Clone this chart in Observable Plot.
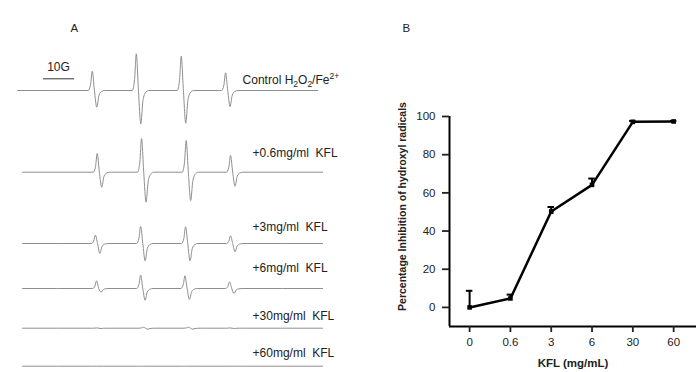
<!DOCTYPE html>
<html>
<head>
<meta charset="utf-8">
<script src="https://cdn.jsdelivr.net/npm/d3@7"></script>
<script src="https://cdn.jsdelivr.net/npm/@observablehq/plot@0.6"></script>
<style>
  html, body { margin: 0; padding: 0; background: #fff; }
  #wrap { display: flex; width: 696px; height: 372px; overflow: hidden; }
  svg { font-family: "Liberation Sans", Arial, sans-serif; }
</style>
</head>
<body>
<div id="wrap"></div>
<script>
// ---------- Panel A: ESR spectra (DMPO-OH quartet) ----------
const spectra = ["Control H2O2/Fe2+", "+0.6mg/ml  KFL", "+3mg/ml  KFL", "+6mg/ml  KFL", "+30mg/ml  KFL", "+60mg/ml  KFL"];
const baseline = [0, -81.7, -153, -198, -237.7, -275.7];          // stacking offset (a.u.)
const labelLift = [10.5, 18.7, 16, 20, 11.7, 13];                   // label height above trace (a.u.)
const sweepStart = [5.5, 7.1, 7.1, 7.1, 7.1, 7.1];                 // field (G)
const sweepEnd = [102.3, 103.9, 103.9, 103.9, 103.9, 103.9];       // field (G)
const peakField = [
  [29.6, 43.8, 58.3, 72.6],
  [31.2, 45.5, 59.9, 74.2],
  [30.6, 45.2, 59.7, 74.2],
  [31.0, 45.2, 59.5, 73.9],
  [31.0, 46.1, 60.6, 74.0],
  [31.0, 45.5, 60.0, 74.0]
];
const peakUp = [
  [19.3, 36.7, 34.3, 17.7],
  [18.7, 33.7, 31.7, 16.7],
  [8.3, 17, 16.7, 7.7],
  [7.7, 13.3, 12.7, 6.7],
  [0.3, 1, 1, 0.3],
  [0, 0, 0, 0]
];
const peakDown = [
  [16.7, 33.3, 32.7, 16],
  [15, 30, 28.3, 14],
  [10, 17.3, 17.3, 8.3],
  [3.6, 11.7, 11, 5],
  [0.3, 1, 1, 0.3],
  [0, 0, 0, 0]
];
// derivative line shape: [field offset G, share of up, share of down]
const lineShape = [[-1.3, 0, 0], [-0.55, 0.3, 0], [0, 1, 0], [0.7, 0, 0], [1.45, 0, 1], [2.15, 0, 0.3], [3.0, 0, 0.06], [4.0, 0, 0]];
const scaleBarGauss = 10;

// ---------- Panel B: inhibition ----------
const kflLabels = ["0", "0.6", "3", "6", "30", "60"];
const inhibition = [0, 4.7, 50.2, 64.2, 97.2, 97.4];
const errorUp = [8.7, 2, 2.4, 3.3, 0.5, 0.3];

// build trace vertices
const tracePoints = [];
spectra.forEach((name, s) => {
  tracePoints.push({s, x: sweepStart[s], y: baseline[s]});
  peakField[s].forEach((f, p) => {
    const u = peakUp[s][p], d = peakDown[s][p];
    for (const [dx, fu, fd] of lineShape) tracePoints.push({s, x: f + dx, y: baseline[s] + fu * u - fd * d});
  });
  tracePoints.push({s, x: sweepEnd[s], y: baseline[s]});
});
const labelRows = spectra.map((name, s) => ({name, x: s === 0 ? 78.1 : 81.3, y: baseline[s] + labelLift[s]}));

const plotA = Plot.plot({
  width: 350, height: 372, margin: 0,
  x: {domain: [0, 350 / 3.1], axis: null},
  y: {domain: [-282, 90], axis: null},
  marks: [
    Plot.line(tracePoints, {x: "x", y: "y", z: "s", stroke: "#8e8e8e", strokeWidth: 1, curve: "monotone-x"}),
    Plot.ruleY([11.7], {x1: 13.9, x2: 13.9 + scaleBarGauss, stroke: "#333", strokeWidth: 1}),
    Plot.text([scaleBarGauss + "G"], {x: 18.7, y: 23.3, fontSize: 12, fill: "#222"}),
    Plot.text(labelRows, {x: "x", y: "y", text: "name", textAnchor: "start", fontSize: 12, fill: "#222"}),
    Plot.text(["A"], {frameAnchor: "top-left", dx: 70, dy: 23, fontSize: 11.5, fill: "#222"})
  ]
});

// subscripts / superscripts in the control label
plotA.querySelectorAll("text").forEach(t => {
  if (t.textContent === spectra[0]) {
    t.textContent = "";
    const parts = [["Control H", 0], ["2", 1], ["O", 0], ["2", 1], ["/Fe", 0], ["2+", 2]];
    let shift = 0;
    for (const [str, kind] of parts) {
      const ts = document.createElementNS("http://www.w3.org/2000/svg", "tspan");
      const target = kind === 1 ? 3 : kind === 2 ? -5 : 0;
      ts.setAttribute("dy", target - shift);
      shift = target;
      if (kind) ts.setAttribute("font-size", "8.5");
      ts.textContent = str;
      t.appendChild(ts);
    }
  }
});

const rows = kflLabels.map((k, i) => ({i, k, v: inhibition[i], e: errorUp[i]}));
const xMin = -0.493, xMax = 5.56;
const plotB = Plot.plot({
  width: 346, height: 372,
  marginLeft: 99, marginRight: 0, marginTop: 116, marginBottom: 46,
  x: {domain: [xMin, xMax]},
  y: {domain: [-10, 100]},
  marks: [
    Plot.ruleX([xMin], {y1: -10, y2: 100, stroke: "#000", strokeWidth: 2}),
    Plot.ruleY([-10], {stroke: "#000", strokeWidth: 2}),
    Plot.axisY({ticks: [0, 20, 40, 60, 80, 100], tickSize: 7, tickPadding: 7, strokeWidth: 1.8, fontSize: 11.5, color: "#222", label: null}),
    Plot.axisX({ticks: [0, 1, 2, 3, 4, 5], tickFormat: i => kflLabels[i], tickSize: 6, tickPadding: 5, strokeWidth: 1.8, fontSize: 11.5, color: "#222", label: null}),
    Plot.ruleX(rows, {x: "i", y1: "v", y2: d => d.v + d.e, stroke: "#000", strokeWidth: 2}),
    Plot.ruleY(rows, {y: d => d.v + d.e, x1: d => d.i - 0.08, x2: d => d.i + 0.08, stroke: "#000", strokeWidth: 2}),
    Plot.line(rows, {x: "i", y: "v", stroke: "#000", strokeWidth: 2.5}),
    Plot.dot(rows, {x: "i", y: "v", symbol: "square", r: 2.6, fill: "#000"}),
    Plot.text(["Percentage Inhibition of hydroxyl radicals"], {frameAnchor: "left", textAnchor: "middle", rotate: -90, dx: -47, dy: -15, fontSize: 10.5, fontWeight: "bold", fill: "#222"}),
    Plot.text(["KFL (mg/mL)"], {frameAnchor: "bottom", dy: 40, fontSize: 11.5, fontWeight: "bold", fill: "#222"}),
    Plot.text(["B"], {frameAnchor: "top-left", dx: -47, dy: -93, fontSize: 11.5, fill: "#222"})
  ]
});

document.getElementById("wrap").append(plotA, plotB);
</script>
</body>
</html>
